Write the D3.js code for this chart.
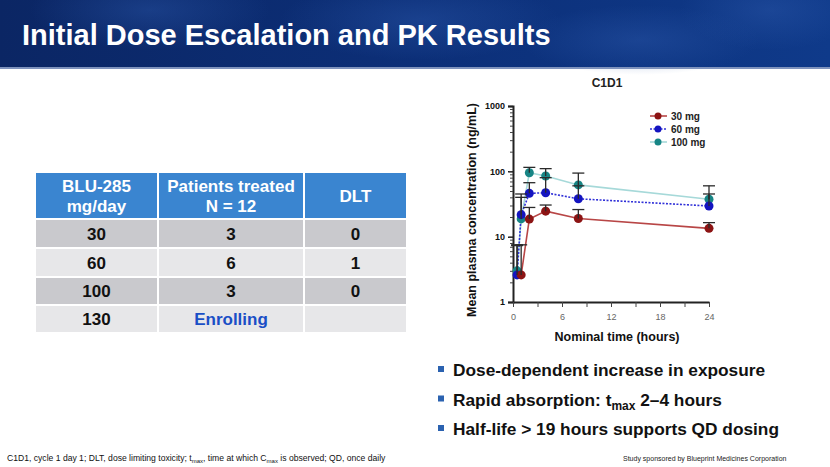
<!DOCTYPE html>
<html><head><meta charset="utf-8">
<script src="https://cdn.jsdelivr.net/npm/d3@7"></script>
<style>
html,body{margin:0;padding:0;background:#fff;}
svg{display:block;font-family:"Liberation Sans",Arial,sans-serif;}
</style></head>
<body>
<svg id="c" width="830" height="467"></svg>
<script>
// ---------- data ----------
const slideTitle = "Initial Dose Escalation and PK Results";
const chartTitle = "C1D1";
const times = [0.5, 1, 2, 4, 8, 24];
const seriesNames = ["30 mg", "60 mg", "100 mg"];
const mean30  = [null, 2.6, 18.6, 24.6, 19.0, 13.4];
const upper30 = [null, 7.5, 28, 30.5, 26, 16.4];
const mean60  = [2.6, 21.7, 46, 47, 38, 29.5];
const upper60 = [7.5, 45, 67, 80, 60, 45];
const mean100  = [3.0, 18.7, 95, 85, 62, 37.4];
const upper100 = [7.3, 40, 115, 110, 94, 60];
const yMajorTicks = [1, 10, 100, 1000];
const xTicks = [0, 3, 6, 9, 12, 15, 18, 21, 24];
const xLabelTicks = [0, 6, 12, 18, 24];
const yAxisLabel = "Mean plasma concentration (ng/mL)";
const xAxisLabel = "Nominal time (hours)";

const tableHeader1 = ["BLU-285", "Patients treated", "DLT"];
const tableHeader2 = ["mg/day", "N = 12", ""];
const doses = ["30", "60", "100", "130"];
const patients = ["3", "6", "3", "Enrolling"];
const dlts = ["0", "1", "0", ""];

const bullets = [
  [["Dose-dependent increase in exposure", null]],
  [["Rapid absorption: t", null], ["max", "sub"], [" 2\u20134 hours", null]],
  [["Half-life > 19 hours supports QD dosing", null]]
];
const footnote = [["C1D1, cycle 1 day 1; DLT, dose limiting toxicity; t", null], ["max", "sub"], [", time at which C", null], ["max", "sub"], [" is observed; QD, once daily", null]];
const sponsor = "Study sponsored by Blueprint Medicines Corporation";

// ---------- drawing ----------
const svg = d3.select("#c");
const defs = svg.append("defs");
const lg = defs.append("linearGradient").attr("id","bannerG").attr("x1","0").attr("x2","1").attr("y1","0").attr("y2","0");
lg.append("stop").attr("offset","0").attr("stop-color","#0b2664");
lg.append("stop").attr("offset","0.5").attr("stop-color","#0c2f78");
lg.append("stop").attr("offset","1").attr("stop-color","#0f3a8a");
const rg = defs.append("radialGradient").attr("id","glow");
rg.append("stop").attr("offset","0").attr("stop-color","#2a56a8").attr("stop-opacity",0.45);
rg.append("stop").attr("offset","1").attr("stop-color","#2a56a8").attr("stop-opacity",0);

svg.append("rect").attr("x",0).attr("y",0).attr("width",830).attr("height",68).attr("fill","url(#bannerG)");
[[150,10,120,40],[420,20,140,40],[640,40,120,35],[770,10,90,40]].forEach(g=>{
  svg.append("ellipse").attr("cx",g[0]).attr("cy",g[1]).attr("rx",g[2]).attr("ry",g[3]).attr("fill","url(#glow)");
});
svg.append("rect").attr("x",0).attr("y",67).attr("width",830).attr("height",2).attr("fill","#7f93bd");

svg.append("text").attr("x",22).attr("y",45).attr("fill","#fff")
  .attr("font-size",29).attr("font-weight","bold").text(slideTitle);

// ---------- table ----------
const colX = [35, 158, 304, 407];
const rowY = [172, 219, 248, 277, 305, 333];
const tbl = svg.append("g");
tbl.append("rect").attr("x",colX[0]).attr("y",rowY[0]).attr("width",colX[3]-colX[0]).attr("height",rowY[1]-rowY[0]).attr("fill","#3a85d0");
const rowFill = ["#c9c9cd","#e7e7e9","#c9c9cd","#e7e7e9"];
doses.forEach((d,i)=>{
  tbl.append("rect").attr("x",colX[0]).attr("y",rowY[i+1]).attr("width",colX[3]-colX[0]).attr("height",rowY[i+2]-rowY[i+1]).attr("fill",rowFill[i]);
});
rowY.forEach(y=>tbl.append("line").attr("x1",colX[0]).attr("x2",colX[3]).attr("y1",y).attr("y2",y).attr("stroke","#fff").attr("stroke-width",2));
colX.forEach(x=>tbl.append("line").attr("x1",x).attr("x2",x).attr("y1",rowY[0]).attr("y2",rowY[5]).attr("stroke","#fff").attr("stroke-width",2));
const colC = [0,1,2].map(i=>(colX[i]+colX[i+1])/2);
tableHeader1.forEach((h,i)=>{
  if (tableHeader2[i]) {
    tbl.append("text").attr("x",colC[i]).attr("y",192).attr("text-anchor","middle").attr("fill","#fff").attr("font-size",17).attr("font-weight","bold").text(h);
    tbl.append("text").attr("x",colC[i]).attr("y",212).attr("text-anchor","middle").attr("fill","#fff").attr("font-size",17).attr("font-weight","bold").text(tableHeader2[i]);
  } else {
    tbl.append("text").attr("x",colC[i]).attr("y",202).attr("text-anchor","middle").attr("fill","#fff").attr("font-size",17).attr("font-weight","bold").text(h);
  }
});
doses.forEach((d,i)=>{
  const cy = (rowY[i+1]+rowY[i+2])/2 + 6;
  [d, patients[i], dlts[i]].forEach((v,j)=>{
    tbl.append("text").attr("x",colC[j]).attr("y",cy).attr("text-anchor","middle")
      .attr("fill", v==="Enrolling" ? "#1a4fc6" : "#111").attr("font-size",17).attr("font-weight","bold").text(v);
  });
});

// ---------- chart ----------
const x = d3.scaleLinear().domain([0,24]).range([513,709]);
const y = d3.scaleLog().domain([1,1000]).range([302,106]);
const ch = svg.append("g");

ch.append("text").attr("x",607).attr("y",87).attr("text-anchor","middle").attr("font-size",12).attr("font-weight","bold").attr("fill","#222").text(chartTitle);

const yMinor = [];
[1,10,100].forEach(b=>{for(let k=2;k<=9;k++) yMinor.push(b*k);});
const yAxis = ch.append("g").attr("transform","translate(513,0)")
  .call(d3.axisLeft(y).tickValues(yMajorTicks).tickSize(5).tickFormat(d3.format("d")));
yAxis.select(".domain").attr("stroke","#222").attr("stroke-width",2);
yAxis.selectAll(".tick line").attr("stroke","#222").attr("stroke-width",1.5);
yAxis.selectAll(".tick text").attr("font-size",9).attr("font-weight","bold").attr("fill","#111").attr("font-family","Liberation Sans, Arial, sans-serif").attr("x",-8);
const yAxisMinor = ch.append("g").attr("transform","translate(513,0)")
  .call(d3.axisLeft(y).tickValues(yMinor).tickSize(3).tickFormat(""));
yAxisMinor.select(".domain").remove();
yAxisMinor.selectAll(".tick line").attr("stroke","#444").attr("stroke-width",1);

const xAxis = ch.append("g").attr("transform","translate(0,302)")
  .call(d3.axisBottom(x).tickValues(xTicks).tickSize(5).tickSizeOuter(0).tickFormat(d=>xLabelTicks.includes(d)?d:""));
xAxis.select(".domain").attr("stroke","#222").attr("stroke-width",2);
xAxis.selectAll(".tick line").attr("stroke","#444").attr("stroke-width",1);
xAxis.selectAll(".tick text").attr("font-size",9).attr("fill","#666").attr("y",12).attr("font-family","Liberation Sans, Arial, sans-serif");

ch.append("text").attr("transform","translate(476,210) rotate(-90)").attr("text-anchor","middle")
  .attr("font-size",12.5).attr("font-weight","bold").attr("fill","#111").text(yAxisLabel);
ch.append("text").attr("x",617).attr("y",341).attr("text-anchor","middle")
  .attr("font-size",12.5).attr("font-weight","bold").attr("fill","#111").text(xAxisLabel);

const series = [
  {name:seriesNames[0], mean:mean30, up:upper30, line:"#b84646", dash:null, marker:"#8c1414"},
  {name:seriesNames[1], mean:mean60, up:upper60, line:"#3030d8", dash:"2,1.5", marker:"#1414c0"},
  {name:seriesNames[2], mean:mean100, up:upper100, line:"#a6d9d9", dash:null, marker:"#178585"}
];
const lineGen = d3.line().defined(d=>d.v!=null).x(d=>x(d.t)).y(d=>y(d.v));
[2,1,0].forEach(si=>{
  const s = series[si];
  const pts = times.map((t,i)=>({t, v:s.mean[i]}));
  ch.append("path").datum(pts).attr("d",lineGen).attr("fill","none").attr("stroke",s.line)
    .attr("stroke-width",1.6).attr("stroke-dasharray",s.dash);
});
[2,1,0].forEach(si=>{
  const s = series[si];
  const pts = times.map((t,i)=>({t, v:s.mean[i]})).filter(d=>d.v!=null);
  ch.selectAll(null).data(pts).enter().append("circle")
    .attr("cx",d=>x(d.t)).attr("cy",d=>y(d.v)).attr("r",4.5).attr("fill",s.marker);
});
series.forEach(s=>{
  const pts = times.map((t,i)=>({t, v:s.mean[i], u:s.up[i]})).filter(d=>d.v!=null);
  const g = ch.append("g").attr("stroke","#2a2a2a").attr("stroke-width",1.3);
  pts.forEach(d=>{
    g.append("line").attr("x1",x(d.t)).attr("x2",x(d.t)).attr("y1",y(d.v)).attr("y2",y(d.u));
    g.append("line").attr("x1",x(d.t)-6).attr("x2",x(d.t)+6).attr("y1",y(d.u)).attr("y2",y(d.u));
  });
});
const leg = ch.append("g");
series.forEach((s,i)=>{
  const ly = 116 + i*13;
  leg.append("line").attr("x1",650).attr("x2",667).attr("y1",ly).attr("y2",ly).attr("stroke",s.line).attr("stroke-width",1.6).attr("stroke-dasharray",s.dash);
  leg.append("circle").attr("cx",658).attr("cy",ly).attr("r",3.5).attr("fill",s.marker);
  leg.append("text").attr("x",671).attr("y",ly+3.5).attr("font-size",10).attr("font-weight","bold").attr("fill","#222").text(s.name);
});

// ---------- bullets ----------
bullets.forEach((parts,i)=>{
  const by = 376 + i*29.5;
  svg.append("rect").attr("x",438).attr("y",by-10).attr("width",6).attr("height",6).attr("fill","#2b62b0");
  const t = svg.append("text").attr("x",453).attr("y",by).attr("font-size",17.3).attr("font-weight","bold").attr("fill","#111");
  parts.forEach(p=>{
    if (p[1]==="sub") t.append("tspan").attr("font-size",12).attr("dy",4).text(p[0]);
    else { const ts = t.append("tspan").text(p[0]); if (t.selectAll("tspan").size()>1) ts.attr("dy",-4); }
  });
});

// ---------- footnote ----------
const fn = svg.append("text").attr("x",7).attr("y",461).attr("font-size",8.6).attr("fill","#111");
footnote.forEach((p,i)=>{
  if (p[1]==="sub") fn.append("tspan").attr("font-size",6).attr("dy",2).text(p[0]);
  else { const ts = fn.append("tspan").text(p[0]); if (i>0) ts.attr("dy",-2); }
});
svg.append("text").attr("x",623).attr("y",461).attr("font-size",7).attr("fill","#222").text(sponsor);
</script>
</body></html>
